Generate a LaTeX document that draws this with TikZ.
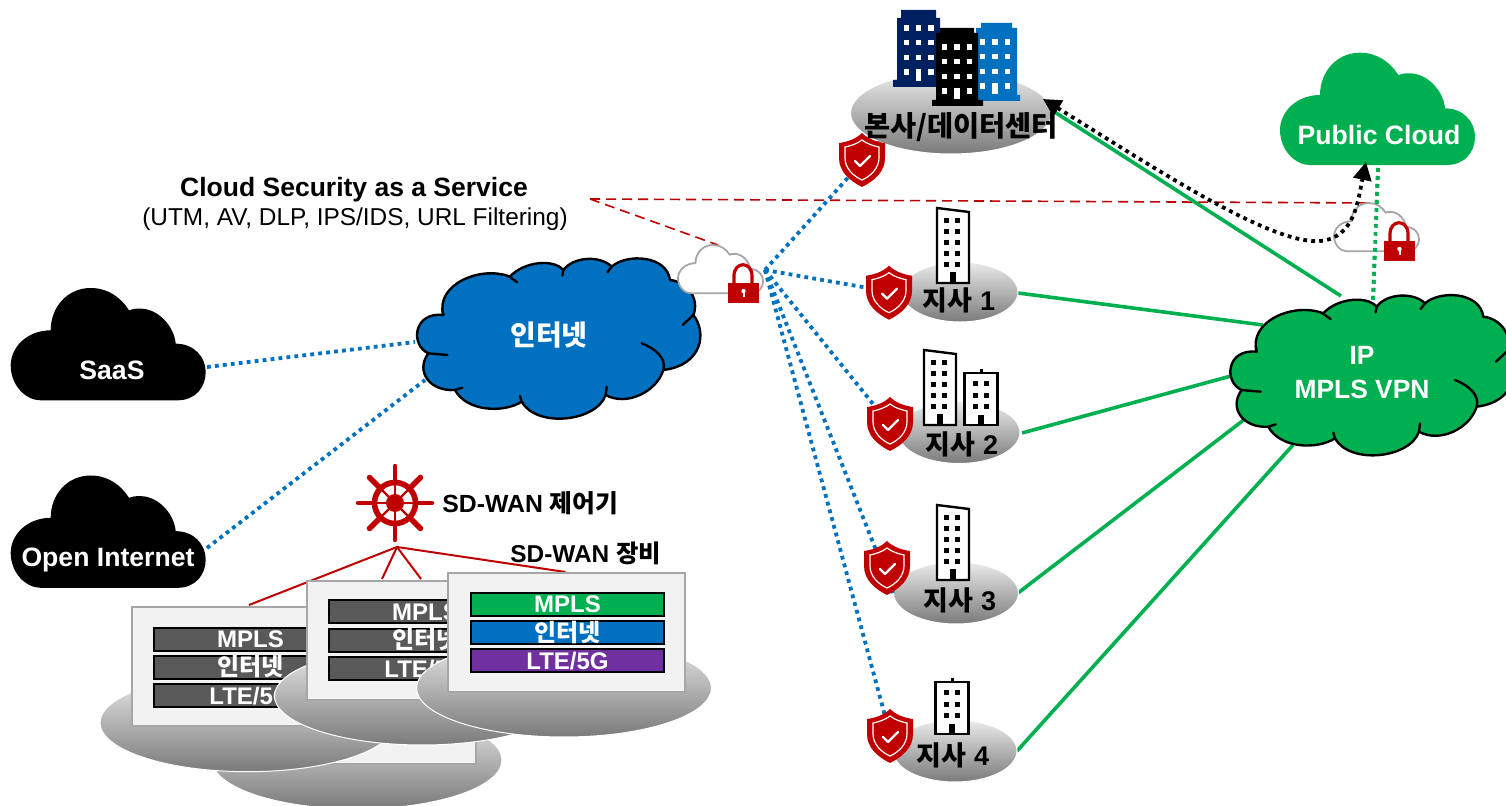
\documentclass[tikz,border=0pt]{standalone}
\usepackage{fontspec}
\setmainfont{Liberation Sans}
\newfontfamily\krf{Noto Sans CJK KR}
\usetikzlibrary{arrows.meta,shapes.geometric}
\definecolor{cgreen}{HTML}{00B050}
\definecolor{cblue}{HTML}{0070C0}
\definecolor{cnavy}{HTML}{002060}
\definecolor{cpurple}{HTML}{7030A0}
\definecolor{cred}{HTML}{C00000}
\definecolor{cbar}{HTML}{595959}
\definecolor{cbox}{HTML}{F2F2F2}
\definecolor{cedge}{HTML}{A6A6A6}
\newcommand\kt[1]{{\krf\bfseries #1}}
\newcommand\simplecloud{(90,337) -- (500,337) .. controls (555,337) and (585,297) .. (585,252) .. controls (585,207) and (550,167) .. (495,167) .. controls (490,112) and (440,62) .. (390,62) .. controls (375,62) and (365,62) .. (355,67) .. controls (330,27) and (290,0) .. (240,0) .. controls (170,0) and (120,57) .. (120,127) .. controls (50,127) and (0,177) .. (0,232) .. controls (0,292) and (45,337) .. (90,337) -- cycle}
\newcommand\scallop{(130,210) .. controls (105,120) and (240,60) .. (330,95) .. controls (370,50) and (460,40) .. (490,75) .. controls (520,35) and (600,30) .. (635,65) .. controls (680,25) and (800,30) .. (810,105) .. controls (860,110) and (900,160) .. (880,210) .. controls (920,260) and (910,360) .. (790,375) .. controls (770,440) and (680,485) .. (617,450) .. controls (590,530) and (410,550) .. (365,470) .. controls (310,505) and (200,500) .. (165,435) .. controls (90,440) and (45,380) .. (85,325) .. controls (30,300) and (40,200) .. (130,210) -- cycle}
\newcommand\scloud[3]{\begin{scope}[shift={(#1,#2)},x=0.16667pt,y=-0.16667pt]
  \fill[#3] \simplecloud;
\end{scope}}
\newcommand\bigcloud[3]{\begin{scope}[shift={(#1,#2)},x=0.16667pt,y=-0.16667pt]
  \draw[fill=#3,line width=1.2pt,line join=round] \scallop;
  \draw[line width=1.2pt,line cap=round] (325,93) -- (352,112) (490,75) -- (487,92) (635,65) -- (622,82) (880,210) -- (848,240) (617,450) -- (620,425) (365,470) -- (360,453) (165,435) -- (187,428) (85,325) -- (142,330) (130,210) -- (128,198);
  \draw[line width=1.2pt,line cap=round] (725,295) .. controls (765,310) and (800,340) .. (790,375);
\end{scope}}
\newcommand\lockcloud[2]{\begin{scope}[shift={(#1,#2)}]
  \begin{scope}[x=0.0727pt,y=-0.0717pt]
    \draw[cedge,fill=white,line width=0.9pt] \simplecloud;
  \end{scope}
  \draw[cred,line width=1.6pt] (56,38) -- (56,31) .. controls (56,16) and (74,16) .. (74,31) -- (74,38);
  \fill[cred] (50,38) rectangle (81,58);
  \fill[white] (65.5,46) circle (2.2);
  \fill[white] (64.5,47) rectangle (66.5,52);
\end{scope}}
\newcommand\shield[2]{\begin{scope}[shift={(#1,#2)}]
  \fill[cred] (0,-27) .. controls (6,-21) and (15,-18) .. (23,-17) -- (23,-2) .. controls (23,12) and (12,21) .. (0,27) .. controls (-12,21) and (-23,12) .. (-23,-2) -- (-23,-17) .. controls (-15,-18) and (-6,-21) .. (0,-27) -- cycle;
  \draw[white,line width=0.6pt] (0,-20) .. controls (5,-16) and (12,-14) .. (17,-13) -- (17,-2) .. controls (17,8) and (9,16) .. (0,20) .. controls (-9,16) and (-17,8) .. (-17,-2) -- (-17,-13) .. controls (-12,-14) and (-5,-16) .. (0,-20) -- cycle;
  \draw[white,line width=1.2pt,line cap=round,line join=round] (-7,1) -- (-2,6) -- (8,-4);
\end{scope}}
\newcommand\tallb[2]{\begin{scope}[shift={(#1,#2)}]
  \draw[fill=white,line width=1.2pt,line join=miter] (0,0) -- (32,4) -- (32,75) -- (0,75) -- cycle;
  \foreach \yy in {13,24,35,46,57} \foreach \xx in {9.5,20.5} \fill (\xx-2.5,\yy-2.5) rectangle +(5,5);
  \fill (12.5,64) rectangle (18.5,75);
\end{scope}}
\newcommand\smallb[2]{\begin{scope}[shift={(#1,#2)}]
  \draw[line width=1.2pt] (17,0) -- (17,-3.5);
  \draw[fill=white,line width=1.2pt,line join=miter] (0,0) rectangle (33,52);
  \foreach \yy in {11,23,34} \foreach \xx in {11,22} \fill (\xx-2.5,\yy-2.5) rectangle +(5,5);
  \fill (13.5,42) rectangle (19.5,52);
\end{scope}}
\newcommand\hqwin[5]{\foreach \xx in {#1,#2,#3} \foreach \yy in {#4} \fill[white] (\xx-2.6,\yy-2.6) rectangle +(5.2,5.2);
  \fill[white] (#2-2.6,#5) rectangle +(5.2,11);}
\tikzset{
  x=0.5pt,y=-0.5pt,
  bluedot/.style={cblue,line width=1.9pt,dash pattern=on 1.9pt off 2.1pt},
  greendot/.style={cgreen,line width=1.9pt,dash pattern=on 1.9pt off 2.1pt},
  blackdot/.style={black,line width=1.9pt,dash pattern=on 1.9pt off 2.1pt},
  greenline/.style={cgreen,line width=1.8pt},
  redline/.style={cred,line width=1pt},
  reddash/.style={cred,line width=0.8pt,dash pattern=on 5pt off 3pt},
  disc/.style={ellipse,draw=white,line width=0.5pt,top color=white!92!black,bottom color=black!52,inner sep=0pt,outer sep=0pt,shading=axis},
  devbox/.style={draw=cedge,line width=1pt,fill=cbox,minimum width=118.5pt,minimum height=59.5pt,inner sep=0pt,anchor=north west},
  devbar/.style={draw=black,line width=1pt,minimum width=96.5pt,minimum height=11.5pt,inner sep=0pt,anchor=north west,text=white,font=\fontsize{12}{13}\selectfont\bfseries,text height=8.5pt,text depth=0pt},
  lbl/.style={inner sep=0pt,font=\fontsize{13.3}{15}\selectfont\bfseries},
  wlbl/.style={lbl,text=white},
  brlbl/.style={lbl,font=\fontsize{13.5}{15}\selectfont\bfseries},
}
\begin{document}
\begin{tikzpicture}
\useasboundingbox (0,0) rectangle (1506,806);
\clip (0,0) rectangle (1506,806);
% anchor points
\coordinate (hub) at (765,270);
\coordinate (saasR) at (207,367);
\coordinate (inetL) at (415,342);
\coordinate (openR) at (207,548);
\coordinate (inetB) at (425,380);
\coordinate (ctr) at (397,547);
\coordinate (dA) at (249,605);
\coordinate (dB) at (382,579);
\coordinate (dC) at (421,579);
\coordinate (dD) at (565.5,572);
\coordinate (dashO) at (590,199);
\coordinate (dashA) at (718,245);
\coordinate (dashB) at (1372,203);
\coordinate (hqIn) at (880,142);
\coordinate (aIn) at (897,293);
\coordinate (bIn) at (890,425);
\coordinate (cIn) at (893,593);
\coordinate (dIn) at (895,753);
\coordinate (hqG) at (1053,111);
\coordinate (aG) at (1018,293);
\coordinate (bG) at (1022,433);
\coordinate (cG) at (1018,593);
\coordinate (dG) at (1017,751);
\coordinate (mA) at (1341,296);
\coordinate (mB) at (1263,325);
\coordinate (mC) at (1231,376);
\coordinate (mD) at (1245,419);
\coordinate (mE) at (1293,445);
\coordinate (pubB) at (1378,168);
\coordinate (mT) at (1373,300);
\coordinate (hqTip) at (1043,99);
\coordinate (pubTip) at (1366,162);
% red dashes
\draw[reddash] (dashO) -- (dashB);
\draw[reddash] (dashO) -- (dashA);
% clouds
\scloud{10.7}{288}{black}
\scloud{10.7}{475.5}{black}
\scloud{1280}{52.7}{cgreen}
\node[wlbl] (saas) at (112,370) {SaaS};
\node[wlbl] (open) at (108,560) {Open Internet};
\node[wlbl] (pub) at (1379,135) {Public Cloud};
\draw[bluedot] (saasR) -- (inetL);
\draw[bluedot] (openR) -- (inetB);
\bigcloud{400}{245}{cblue}
\node[wlbl,font=\fontsize{14}{16}\selectfont\bfseries] (inet) at (549,335) {\kt{인터넷}};
% green lines under the MPLS cloud
\draw[greenline] (hqG) -- (mA);
\draw[greenline] (aG) -- (mB);
\draw[greenline] (bG) -- (mC);
\draw[greenline] (cG) -- (mD);
\draw[greenline] (dG) -- (mE);
\draw[greendot] (pubB) -- (mT);
\bigcloud{1213.3}{281.7}{cgreen}
\node[wlbl,align=center,font=\fontsize{13.2}{17}\selectfont\bfseries] (mpls) at (1362,373) {IP\\MPLS VPN};
% security icon, internet side
\lockcloud{678}{245}
% branch discs
\node[disc,minimum width=100.5pt,minimum height=41pt] (hq) at (951,113) {};
\node[disc,minimum width=58pt,minimum height=30pt] (bA) at (960,292) {};
\node[disc,minimum width=61pt,minimum height=31pt] (bB) at (959,432.5) {};
\node[disc,minimum width=62.5pt,minimum height=31pt] (bC) at (956,593) {};
\node[disc,minimum width=62pt,minimum height=31pt] (bD) at (955,751) {};
% hq towers
\fill[cnavy] (893,87) -- (893,80) -- (897,80) -- (897,18) -- (901,18) -- (901,10) -- (936,10) -- (936,18) -- (940,18) -- (940,87) -- cycle;
\hqwin{906.3}{918.7}{931}{28,42.7,57.3,72}{70}
\fill[cblue] (976,101) -- (976,28) -- (981,28) -- (981,23) -- (1012,23) -- (1012,28) -- (1017,28) -- (1017,95) -- (1020,95) -- (1020,101) -- cycle;
\hqwin{982.3}{995}{1007.7}{42,56.7,71.3,86}{83}
\fill[black] (932,106) -- (932,100) -- (936,100) -- (936,33) -- (940,33) -- (940,28) -- (974,28) -- (974,33) -- (978,33) -- (978,100) -- (983,100) -- (983,106) -- cycle;
\hqwin{944.3}{957}{969.7}{47,61.7,76.3,91}{88}
% branch buildings
\tallb{937}{208}
\tallb{924}{350}
\smallb{964.5}{373}
\tallb{937}{505}
\smallb{935.5}{682}
% blue connectors to branches
\draw[bluedot] (hub) -- (hqIn);
\draw[bluedot] (hub) -- (aIn);
\draw[bluedot] (hub) -- (bIn);
\draw[bluedot] (hub) -- (cIn);
\draw[bluedot] (hub) -- (dIn);
% shields
\shield{862}{160}
\shield{889}{292.7}
\shield{890}{424}
\shield{887}{568}
\shield{890}{736}
% branch labels
\node[brlbl,font=\fontsize{14.2}{16}\selectfont\bfseries] (thq) at (961,127) {\kt{본사/데이터센터}};
\node[brlbl] (tA) at (959,300) {\kt{지사} 1};
\node[brlbl] (tB) at (962,444) {\kt{지사} 2};
\node[brlbl] (tC) at (960,600) {\kt{지사} 3};
\node[brlbl] (tD) at (953,755) {\kt{지사} 4};
% security icon, cloud side
\lockcloud{1334}{203}
\draw[greendot] (pubB) -- (mT);
\draw[blackdot,{Triangle[length=9pt,width=9pt]}-{Triangle[length=9pt,width=9pt]}] (hqTip) .. controls (1150,165) and (1270,245) .. (1320,241) .. controls (1355,238) and (1358,200) .. (pubTip);
% captions
\node[lbl,font=\fontsize{13.25}{15}\selectfont\bfseries] (cs) at (354,189.5) {Cloud Security as a Service};
\node[lbl,font=\fontsize{12.2}{14}\selectfont\mdseries] (cs2) at (355,219.5) {(UTM, AV, DLP, IPS/IDS, URL Filtering)};
% controller
\begin{scope}[shift={(395,503)},cred]
  \foreach \a in {0,90,180,270} {
    \draw[line width=1.2pt] (\a:0) -- (\a:21);
    \draw[line width=2.2pt,line cap=round] (\a:21) -- (\a:37);
  }
  \foreach \a in {45,135,225,315} {
    \draw[line width=1.2pt] (\a:0) -- (\a:21);
    \draw[line width=2.8pt,line cap=round] (\a:22) -- (\a:36);
  }
  \draw[line width=2.8pt] (0,0) circle (20.5);
  \fill (0,0) circle (9);
\end{scope}
\node[anchor=west,lbl,font=\fontsize{12.4}{14}\selectfont\bfseries] (ctrl) at (442,503) {SD-WAN \kt{제어기}};
\node[anchor=west,lbl,font=\fontsize{12.2}{14}\selectfont\bfseries] (dev) at (510,553) {SD-WAN \kt{장비}};
\draw[redline] (ctr) -- (dA);
\draw[redline] (ctr) -- (dB);
\draw[redline] (ctr) -- (dC);
\draw[redline] (ctr) -- (dD);
% devices
\node[disc,minimum width=145pt,minimum height=49pt] (e4) at (357,760) {};
\node[devbox] (b4) at (238,644) {};
\node[disc,minimum width=147.5pt,minimum height=49pt] (e1) at (247.5,722.7) {};
\node[devbox] (b1) at (131,606) {};
\node[devbar,fill=cbar] (b1a) at (153,627) {MPLS};
\node[devbar,fill=cbar] (b1b) at (153,655) {\kt{인터넷}};
\node[devbar,fill=cbar] (b1c) at (153,683.5) {LTE/5G};
\node[disc,minimum width=147.5pt,minimum height=49pt] (e2) at (422,696) {};
\node[devbox] (b2) at (305.5,580) {};
\node[devbar,fill=cbar] (b2a) at (328,599.5) {MPLS};
\node[devbar,fill=cbar] (b2b) at (328,628) {\kt{인터넷}};
\node[devbar,fill=cbar] (b2c) at (328,656.5) {LTE/5G};
\node[disc,minimum width=147.5pt,minimum height=49pt] (e3) at (564,688) {};
\node[devbox] (b3) at (447,572) {};
\node[devbar,fill=cgreen] (b3a) at (470,592) {MPLS};
\node[devbar,fill=cblue] (b3b) at (470,620.5) {\kt{인터넷}};
\node[devbar,fill=cpurple] (b3c) at (470,648.5) {LTE/5G};
\end{tikzpicture}
\end{document}
